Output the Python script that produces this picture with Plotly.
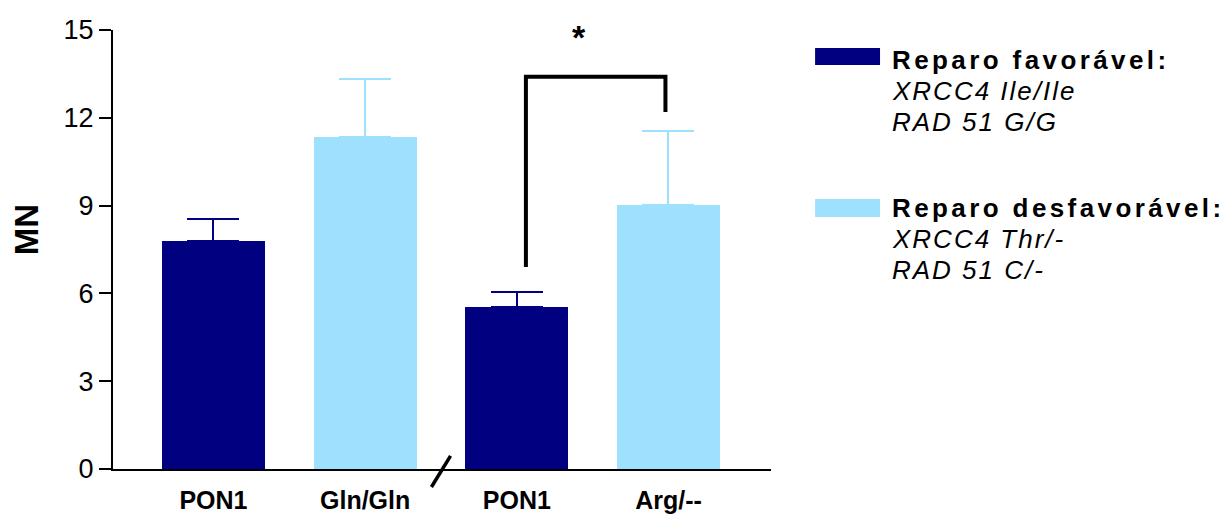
import plotly.graph_objects as go

# ---- data ----
positions = [0, 1, 2, 3]
tick_labels = ["PON1", "Gln/Gln", "PON1", "Arg/--"]
means = [7.79, 11.33, 5.53, 9.02]
sem = [0.75, 2.00, 0.52, 2.53]
groups = ["fav", "desfav", "fav", "desfav"]
y_ticks = [0, 3, 6, 9, 12, 15]

legend_titles = ["Reparo favorável:", "Reparo desfavorável:"]
legend_lines = [["XRCC4 Ile/Ile", "RAD 51 G/G"], ["XRCC4 Thr/-", "RAD 51 C/-"]]

NAVY = "#000080"
LIGHT = "#A0E0FF"
colors = {"fav": NAVY, "desfav": LIGHT}
FONT = "Arial, Liberation Sans, sans-serif"

fig = go.Figure()
for x, m, e, g in zip(positions, means, sem, groups):
    fig.add_trace(go.Bar(
        x=[x], y=[m], width=0.68,
        marker=dict(color=colors[g], line=dict(width=0)),
        error_y=dict(type="data", symmetric=False, array=[e], arrayminus=[0],
                     color=colors[g], thickness=2, width=26),
        showlegend=False, hoverinfo="skip",
    ))

# significance bracket between bars 3 and 4
b_left, b_right = positions[2] + 0.06, positions[3] - 0.02
fig.add_shape(type="path",
              path=f"M {b_left},6.9 V 13.4 H {b_right} V 12.2",
              xref="x", yref="y", line=dict(color="black", width=4))
fig.add_annotation(x=positions[2] + 0.41, y=14.75, xref="x", yref="y",
                   text="<b>*</b>", showarrow=False,
                   font=dict(family=FONT, size=34, color="black"))

# axis break slash between categories 2 and 3
brk = (positions[1] + positions[2]) / 2
fig.add_shape(type="line", xref="x", yref="y domain",
              x0=brk - 0.063, x1=brk + 0.063, y0=-0.041, y1=0.03,
              line=dict(color="black", width=3.5))

# y-axis title
fig.add_annotation(x=-0.1322, y=0.544, xref="paper", yref="paper",
                   xanchor="center", yanchor="middle",
                   text="<b>MN</b>", textangle=-90, showarrow=False,
                   font=dict(family=FONT, size=33, color="black"))

# custom legend
patch_y = [(0.9203, 0.959), (0.574, 0.615)]
title_y = [0.932, 0.5945]
for i, (title, lines) in enumerate(zip(legend_titles, legend_lines)):
    col = NAVY if i == 0 else LIGHT
    fig.add_shape(type="rect", xref="paper", yref="paper",
                  x0=1.067, x1=1.1657, y0=patch_y[i][0], y1=patch_y[i][1],
                  fillcolor=col, line=dict(width=0))
    fig.add_annotation(x=1.1809, y=title_y[i], xref="paper", yref="paper",
                       xanchor="left", yanchor="middle", showarrow=False,
                       text=f"<span style='letter-spacing:3.4px'><b>{title}</b></span>",
                       font=dict(family=FONT, size=26, color="black"))
    for j, ln in enumerate(lines):
        fig.add_annotation(x=1.1809, y=title_y[i] - (j + 1) * 0.0706,
                           xref="paper", yref="paper",
                           xanchor="left", yanchor="middle", showarrow=False,
                           text=f"<span style='letter-spacing:2px'><i>{ln}</i></span>",
                           font=dict(family=FONT, size=26, color="black"))

fig.update_layout(
    width=1226, height=516,
    margin=dict(l=113, r=455, t=30, b=47),
    paper_bgcolor="white", plot_bgcolor="white",
    bargap=0, showlegend=False,
    font=dict(family=FONT, color="black"),
    xaxis=dict(range=[-0.6626, 3.676], tickvals=positions,
               ticktext=[f"<b>{t}</b>" for t in tick_labels],
               tickfont=dict(family=FONT, size=25, color="black"),
               showgrid=False, zeroline=False, showline=True,
               linecolor="black", linewidth=2, automargin=False,
               ticks="outside", ticklen=8, tickcolor="rgba(0,0,0,0)"),
    yaxis=dict(range=[0, 15], tickvals=y_ticks,
               tickfont=dict(family=FONT, size=27, color="black"),
               showgrid=False, zeroline=False, showline=True,
               linecolor="black", linewidth=2, automargin=False,
               ticks="outside", ticklen=12, tickwidth=2, tickcolor="black"),
)

fig.write_html("out.html")
